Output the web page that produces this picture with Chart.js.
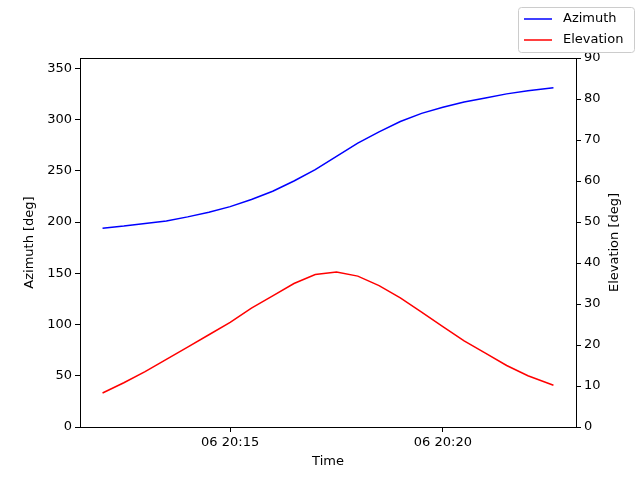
<!DOCTYPE html>
<html><head><meta charset="utf-8">
<script src="https://cdn.jsdelivr.net/npm/chart.js@4/dist/chart.umd.min.js"></script>
<style>body{margin:0;background:#fff}#w{width:640px;height:480px}</style>
</head><body><div id="w"><canvas id="c"></canvas></div>
<script>
const timeMin = [-3.0,-2.5,-2.0,-1.5,-1.0,-0.5,0,0.5,1.0,1.5,2.0,2.5,3.0,3.5,4.0,4.5,5.0,5.5,6.0,6.5,7.0,7.6];
const azimuth = [194,196,198.5,201,205,209.5,215,222,230,240,251,264,277,288,298,306,312,317,321,325,328,331];
const elevation = [8.3,10.8,13.5,16.5,19.5,22.5,25.5,29,32,35,37.2,37.8,36.8,34.5,31.5,28,24.5,21,18,15,12.5,10.2];
const xTickVals = [0,5];
const xTickLabels = ['06 20:15','06 20:20'];
const F = {family:'DejaVu Sans', size:13};
const frame = {id:'frame', afterDraw(ch){const a=ch.chartArea,c=ch.ctx;c.save();c.strokeStyle='#000';c.lineWidth=1;
 c.strokeRect(Math.round(a.left)+0.5,Math.round(a.top)+0.5,Math.round(a.right-a.left),Math.round(a.bottom-a.top));
 c.font='13px DejaVu Sans';c.fillStyle='#000';c.textAlign='center';c.textBaseline='middle';
 c.fillText('Time',328,462);
 const cy=(a.top+a.bottom)/2;
 [['Azimuth [deg]',30],['Elevation [deg]',615]].forEach(([t,x])=>{c.save();c.translate(x,cy);c.rotate(-Math.PI/2);c.fillText(t,0,0);c.restore();});
 // legend
 c.textAlign='left';
 c.fillStyle='#fff';c.strokeStyle='#ccc';c.beginPath();c.roundRect(518.5,7.5,116,45,3);c.fill();c.stroke();
 c.fillStyle='#000';
 [['Azimuth','#0000ff',19],['Elevation','#ff0000',40]].forEach(([t,col,y])=>{c.strokeStyle=col;c.lineWidth=1.5;c.beginPath();c.moveTo(524,y);c.lineTo(552,y);c.stroke();c.fillText(t,563,y);});
 c.restore();}};
const pts = (v)=>timeMin.map((t,i)=>({x:t,y:v[i]}));
new Chart(document.getElementById('c'),{type:'line',
 data:{datasets:[
  {label:'Azimuth',data:pts(azimuth),borderColor:'#0000ff',borderWidth:1.5,pointRadius:0,yAxisID:'y'},
  {label:'Elevation',data:pts(elevation),borderColor:'#ff0000',borderWidth:1.5,pointRadius:0,yAxisID:'y2'}]},
 options:{responsive:true,maintainAspectRatio:false,animation:false,
  layout:{padding:{top:58,left:0,right:0,bottom:0}},
  plugins:{legend:{display:false},tooltip:{enabled:false}},
  scales:{
   x:{type:'linear',min:-3.53,max:8.13,
      afterBuildTicks(s){s.ticks=xTickVals.map(v=>({value:v}));},
      afterFit(s){s.height=53;},
      ticks:{font:F,color:'#000',callback:(v)=>xTickLabels[xTickVals.indexOf(v)]},
      grid:{drawOnChartArea:false,tickLength:5,tickColor:'#000'},border:{display:false}},
   y:{position:'left',min:0,max:360,afterFit(s){s.width=80;},
      afterBuildTicks(s){s.ticks=[0,50,100,150,200,250,300,350].map(v=>({value:v}));},
      ticks:{font:F,color:'#000'},grid:{drawOnChartArea:false,tickLength:5,tickColor:'#000'},border:{display:false}},
   y2:{position:'right',min:0,max:90,afterFit(s){s.width=64;},
      ticks:{font:F,color:'#000',stepSize:10},grid:{drawOnChartArea:false,tickLength:5,tickColor:'#000'},border:{display:false}}}},
 plugins:[frame]});
</script></body></html>
